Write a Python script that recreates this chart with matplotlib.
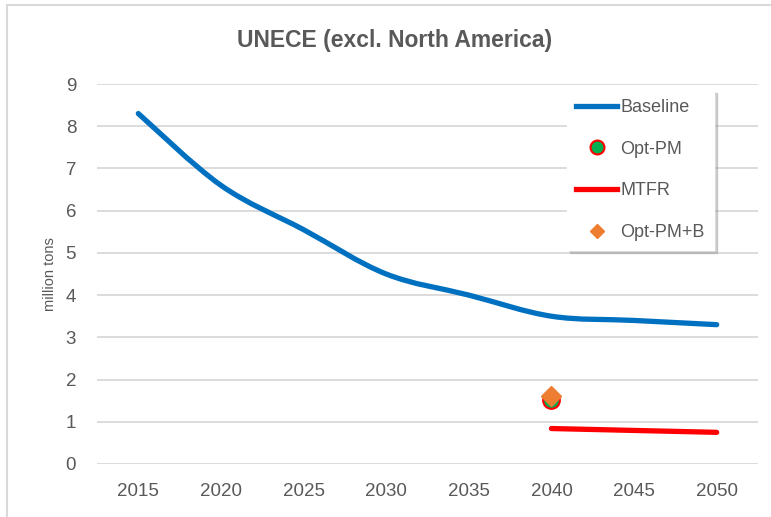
import numpy as np
from matplotlib import pyplot as plt
from matplotlib.path import Path
from matplotlib.patches import PathPatch, Rectangle
from matplotlib.lines import Line2D

plt.rcParams['font.family'] = ['Liberation Sans', 'DejaVu Sans']
gray = '#595959'

years = [2015, 2020, 2025, 2030, 2035, 2040, 2045, 2050]
baseline = [8.3, 6.6, 5.55, 4.5, 4.0, 3.5, 3.4, 3.3]
mtfr_years = [2040, 2050]
mtfr = [0.84, 0.75]
optpm_years = [2040]
optpm = [1.52]
optpmb_years = [2040]
optpmb = [1.62]


def smooth_path(x, y):
    # excel style smoothed line: cubic bezier through each point
    x = np.asarray(x, float)
    y = np.asarray(y, float)
    pts = np.column_stack([x, y])
    verts = [pts[0]]
    codes = [Path.MOVETO]
    n = len(pts)
    for i in range(n - 1):
        p0 = pts[i - 1] if i > 0 else pts[i]
        p1 = pts[i]
        p2 = pts[i + 1]
        p3 = pts[i + 2] if i + 2 < n else pts[i + 1]
        c1 = p1 + (p2 - p0) / 6
        c2 = p2 - (p3 - p1) / 6
        verts += [c1, c2, p2]
        codes += [Path.CURVE4] * 3
    return Path(verts, codes)


fig = plt.figure(figsize=(7.71, 5.17), dpi=100)
ax = fig.add_axes([97/771, 1-464/517, 661/771, 380/517])

fig.patches.append(Rectangle((7/771, -0.1), 1.1, 1-5/517+0.1, transform=fig.transFigure,
                             fill=False, edgecolor='#D9D9D9', linewidth=1.5))

ax.add_patch(PathPatch(smooth_path(years, baseline), fill=False, edgecolor='#0070C0',
                       linewidth=3.8, capstyle='round', zorder=3))
ax.plot(mtfr_years, mtfr, color='#FF0000', linewidth=3.8, solid_capstyle='round', zorder=3)
ax.plot(optpm_years, optpm, 'o', markersize=12, markerfacecolor='#00B050',
        markeredgecolor='#FF0000', markeredgewidth=1.5, zorder=4)
ax.plot(optpmb_years, optpmb, 'D', markersize=10, color='#ED7D31', zorder=5)

ax.set_xlim(2012.5, 2052.5)
ax.set_ylim(0, 9)
ax.set_xticks(years)
ax.set_yticks(range(10))
ax.tick_params(length=0, labelsize=13.5, labelcolor=gray, pad=14)
ax.tick_params(axis='y', pad=15)
ax.grid(axis='y', color='#D9D9D9', linewidth=1.3)
ax.set_axisbelow(True)
for s in ax.spines.values():
    s.set_visible(False)

ax.set_ylabel('million tons', fontsize=10.5, color=gray, labelpad=6)
fig.text(395/771, 1-40/517, 'UNECE (excl. North America)', ha='center', va='center',
         fontsize=16.5, fontweight='bold', color=gray)

handles = [Line2D([], [], color='#0070C0', linewidth=3.8),
           Line2D([], [], marker='o', linestyle='none', markersize=10, markerfacecolor='#00B050',
                  markeredgecolor='#FF0000', markeredgewidth=1.5),
           Line2D([], [], color='#FF0000', linewidth=3.8),
           Line2D([], [], marker='D', linestyle='none', markersize=7, color='#ED7D31')]
labels = ['Baseline', 'Opt-PM', 'MTFR', 'Opt-PM+B']
leg = ax.legend(handles, labels, loc='upper left', bbox_to_anchor=(0.697, 1.008), fontsize=13,
                labelcolor=gray, labelspacing=1.37, handlelength=2.3, handletextpad=0.18,
                borderpad=0.5, fancybox=False, shadow={'color': '#9a9a9a', 'alpha': 0.45},
                framealpha=1, edgecolor='white')

plt.savefig('out.png', dpi=100)
